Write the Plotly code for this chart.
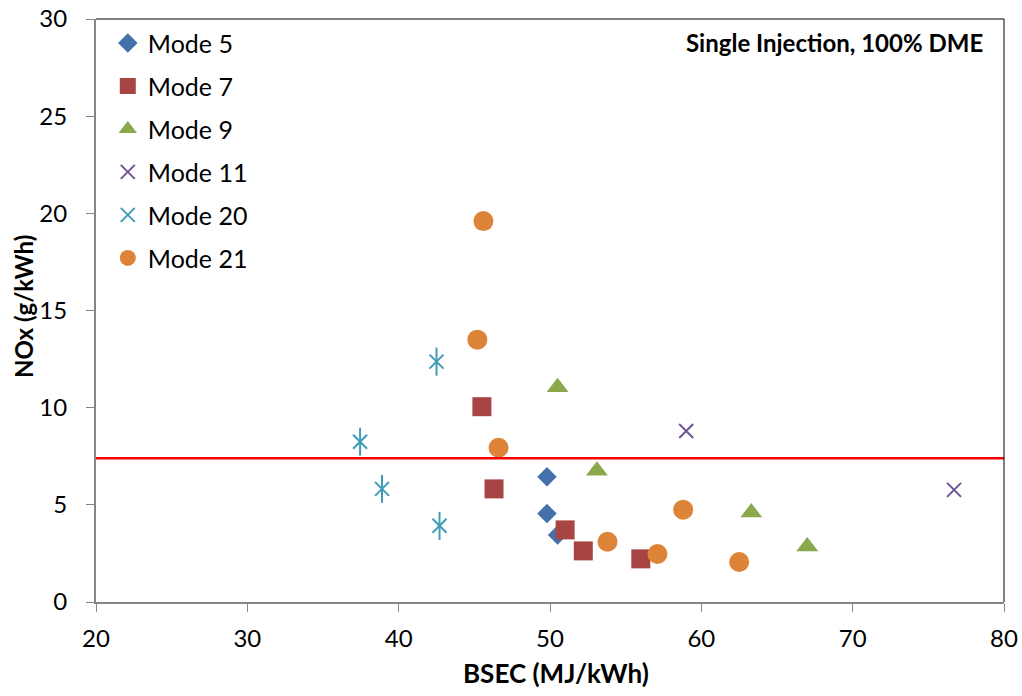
import plotly.graph_objects as go

# Data
mode5_x = [49.8, 49.8, 50.5]
mode5_y = [6.45, 4.55, 3.45]
mode7_x = [45.5, 46.3, 51.0, 52.2, 56.0]
mode7_y = [10.05, 5.82, 3.71, 2.63, 2.22]
mode9_x = [50.5, 53.1, 63.3, 67.0]
mode9_y = [11.05, 6.75, 4.6, 2.85]
mode11_x = [59.0, 76.7]
mode11_y = [8.8, 5.77]
mode20_x = [37.45, 38.9, 42.5, 42.7]
mode20_y = [8.25, 5.82, 12.37, 3.92]
mode21_x = [45.6, 45.2, 46.6, 53.8, 58.8, 57.1, 62.5]
mode21_y = [19.6, 13.5, 7.94, 3.1, 4.75, 2.47, 2.06]
nox_limit = 7.4

x_ticks = [20, 30, 40, 50, 60, 70, 80]
y_ticks = [0, 5, 10, 15, 20, 25, 30]

FONT = "Lato"

fig = go.Figure()

def add(name, xs, ys, symbol, size, color, line_w=0, group=None, show=True):
    fig.add_trace(go.Scatter(
        x=xs, y=ys, mode="markers", name=name,
        legendgroup=group or name, showlegend=show,
        marker=dict(symbol=symbol, size=size, color=color,
                    line=dict(width=line_w, color=color)),
    ))

add("Mode 5", mode5_x, mode5_y, "diamond", 15, "#4471A9")
add("Mode 7", mode7_x, mode7_y, "square", 19, "#A84443")
add("Mode 9", mode9_x, mode9_y, "triangle-up", 19, "#8AA84C")
add("Mode 11", mode11_x, mode11_y, "x-thin", 14, "#6F5596", line_w=2)
add("Mode 20", mode20_x, mode20_y, "x-thin", 14, "#3F9CB6", line_w=2)
add("Mode 20", mode20_x, mode20_y, "line-ns", 20, "#3F9CB6", line_w=2,
    group="Mode 20", show=False)
add("Mode 21", mode21_x, mode21_y, "circle", 20, "#DE8439")

# NOx limit line
fig.add_shape(type="line", xref="paper", x0=0, x1=1, yref="y",
              y0=nox_limit, y1=nox_limit, line=dict(color="#FF0000", width=2.5))
# top and right border
fig.add_shape(type="line", xref="paper", yref="paper", x0=0, x1=1, y0=1, y1=1,
              line=dict(color="#000000", width=1))
fig.add_shape(type="line", xref="paper", yref="paper", x0=1, x1=1, y0=0, y1=1,
              line=dict(color="#000000", width=1))

fig.add_annotation(text="<b>Single Injection, 100% DME</b>", xref="paper", yref="paper",
                   x=0.979, y=0.959, xanchor="right", yanchor="middle", showarrow=False,
                   font=dict(family=FONT, size=24, color="#000000"))
# axis titles
fig.add_annotation(text="<b>BSEC (MJ/kWh)</b>", xref="paper", yref="paper",
                   x=0.5066, y=-0.1218, xanchor="center", yanchor="middle", showarrow=False,
                   font=dict(family=FONT, size=26, color="#000000"))
fig.add_annotation(text="<b>NOx (g/kWh)</b>", xref="paper", yref="paper", textangle=-90,
                   x=-0.0804, y=0.5077, xanchor="center", yanchor="middle", showarrow=False,
                   font=dict(family=FONT, size=24, color="#000000"))

fig.update_layout(
    width=1022, height=696,
    margin=dict(l=96, r=18, t=19, b=94),
    paper_bgcolor="white", plot_bgcolor="white",
    font=dict(family=FONT, color="#000000"),
    showlegend=True,
    legend=dict(x=0.013, y=0.998, xanchor="left", yanchor="top",
                font=dict(family=FONT, size=25, color="#000000"),
                bgcolor="rgba(0,0,0,0)", tracegroupgap=7.5),
    xaxis=dict(range=[20, 80], tickvals=x_ticks, showgrid=False, zeroline=False,
               automargin=False,
               showline=True, linecolor="#868686", linewidth=2,
               ticks="outside", ticklen=8, tickcolor="#868686", tickwidth=1,
               ticklabelstandoff=6,
               tickfont=dict(family=FONT, size=24, color="#000000")),
    yaxis=dict(range=[0, 30], tickvals=y_ticks, showgrid=False, zeroline=False,
               automargin=False,
               showline=True, linecolor="#868686", linewidth=2,
               ticks="outside", ticklen=8, tickcolor="#868686", tickwidth=1,
               ticklabelstandoff=14,
               tickfont=dict(family=FONT, size=24, color="#000000")),
)

fig.write_html("out.html")
